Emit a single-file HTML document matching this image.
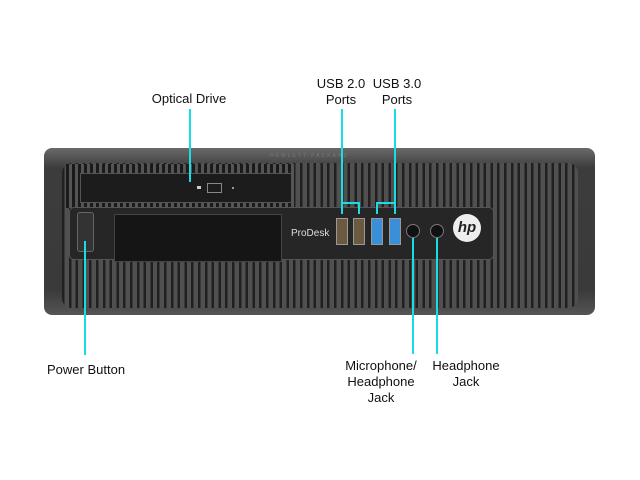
<!DOCTYPE html>
<html><head><style>
body{margin:0;width:640px;height:480px;background:#fff;position:relative;overflow:hidden;font-family:"Liberation Sans",sans-serif;}
.a{position:absolute}
.t{position:absolute;font-size:13px;color:#111;text-align:center;line-height:16px}
.c{position:absolute;background:#19dde3}
</style></head><body>
<div class="a" style="left:44px;top:148px;width:551px;height:167px;background:linear-gradient(#6a6a6a,#3c3c3c 12%,#3a3a3a 85%,#555);border-radius:8px;"></div>
<div class="a" style="left:62px;top:163px;width:516px;height:145px;border-radius:10px;background:repeating-linear-gradient(90deg,#202020 0 2.5px,#505050 2.5px 6.8px);"></div>
<div class="a" style="left:66px;top:164px;width:228px;height:44px;background:repeating-linear-gradient(90deg,#1a1a1a 0 3px,#555 3px 6px);"></div>
<div class="a" style="left:80px;top:173px;width:210px;height:28px;background:#1c1c1c;border:1px solid #555;"></div>
<div class="a" style="left:207px;top:183px;width:13px;height:8px;border:1px solid #888;"></div>
<div class="a" style="left:197px;top:186px;width:4px;height:3px;background:#ccc;"></div>
<div class="a" style="left:232px;top:187px;width:2px;height:2px;background:#999;"></div>
<div class="a" style="left:270px;top:153px;font-size:5px;color:#777;letter-spacing:2px">HEWLETT-PACKARD</div>
<div class="a" style="left:69px;top:207px;width:423px;height:51px;background:#262626;border-radius:5px;border:1px solid #555;"></div>
<div class="a" style="left:77px;top:212px;width:15px;height:38px;background:#333;border:1px solid #666;border-radius:3px;"></div>
<div class="a" style="left:114px;top:214px;width:166px;height:46px;background:#151515;border:1px solid #444;"></div>
<div class="a" style="left:291px;top:228px;font-size:10px;color:#ddd">ProDesk</div>
<div class="a" style="left:336px;top:218px;width:10px;height:25px;background:#6a5a40;border:1px solid #999;"></div>
<div class="a" style="left:353px;top:218px;width:10px;height:25px;background:#6a5a40;border:1px solid #999;"></div>
<div class="a" style="left:371px;top:218px;width:10px;height:25px;background:#3b8ed8;border:1px solid #999;"></div>
<div class="a" style="left:389px;top:218px;width:10px;height:25px;background:#3b8ed8;border:1px solid #999;"></div>
<div class="a" style="left:406px;top:224px;width:12px;height:12px;border-radius:50%;background:#111;border:1px solid #777;"></div>
<div class="a" style="left:430px;top:224px;width:12px;height:12px;border-radius:50%;background:#111;border:1px solid #777;"></div>
<div class="a" style="left:453px;top:214px;width:28px;height:28px;border-radius:50%;background:#eee;color:#222;font-size:15px;font-style:italic;font-weight:bold;text-align:center;line-height:28px">hp</div>
<div class="c" style="left:189px;top:109px;width:2px;height:73px"></div>
<div class="c" style="left:341px;top:109px;width:2px;height:105px"></div>
<div class="c" style="left:341px;top:202px;width:19px;height:2px"></div>
<div class="c" style="left:358px;top:202px;width:2px;height:12px"></div>
<div class="c" style="left:394px;top:109px;width:2px;height:105px"></div>
<div class="c" style="left:376px;top:202px;width:19px;height:2px"></div>
<div class="c" style="left:376px;top:202px;width:2px;height:12px"></div>
<div class="c" style="left:84px;top:241px;width:2px;height:114px"></div>
<div class="c" style="left:412px;top:238px;width:2px;height:116px"></div>
<div class="c" style="left:436px;top:238px;width:2px;height:116px"></div>
<div class="t" style="left:139px;top:91px;width:100px">Optical Drive</div>
<div class="t" style="left:301px;top:76px;width:80px">USB 2.0<br>Ports</div>
<div class="t" style="left:357px;top:76px;width:80px">USB 3.0<br>Ports</div>
<div class="t" style="left:47px;top:362px;text-align:left">Power Button</div>
<div class="t" style="left:336px;top:358px;width:90px">Microphone/<br>Headphone<br>Jack</div>
<div class="t" style="left:426px;top:358px;width:80px">Headphone<br>Jack</div>
</body></html>
